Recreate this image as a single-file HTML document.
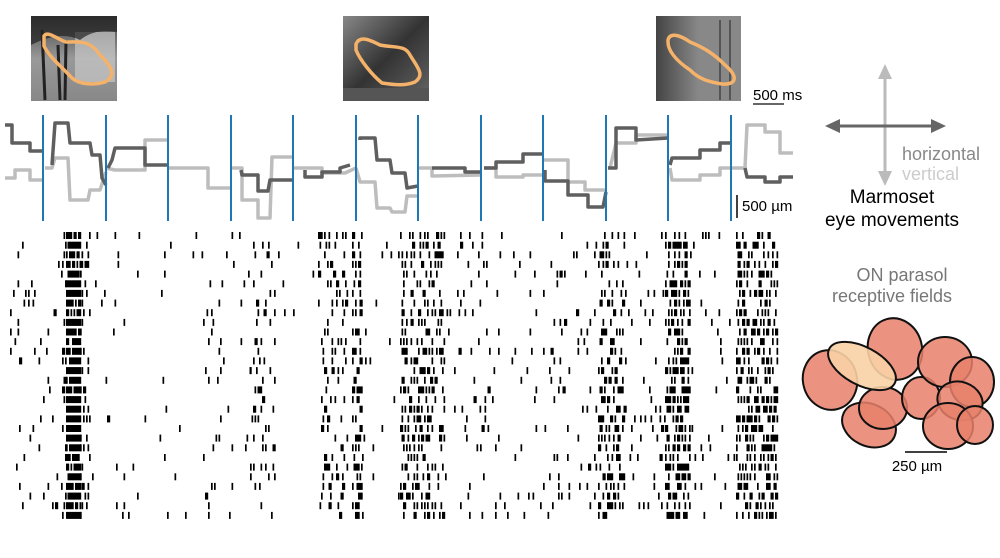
<!DOCTYPE html>
<html><head><meta charset="utf-8">
<style>
html,body{margin:0;padding:0;background:#fff;width:1000px;height:558px;overflow:hidden}
svg{display:block}
text{font-family:"Liberation Sans",Arial,sans-serif}
</style></head>
<body>
<svg id="s" width="1000" height="558" viewBox="0 0 1000 558" xmlns="http://www.w3.org/2000/svg">
<defs>
<linearGradient id="g1" x1="0" y1="0" x2="0" y2="1"><stop offset="0" stop-color="#444"/><stop offset="0.5" stop-color="#999"/><stop offset="1" stop-color="#888"/></linearGradient>
<linearGradient id="g2" x1="0" y1="0" x2="1" y2="1"><stop offset="0" stop-color="#888"/><stop offset="0.5" stop-color="#333"/><stop offset="1" stop-color="#666"/></linearGradient>
<linearGradient id="g3" x1="0" y1="0" x2="1" y2="0"><stop offset="0" stop-color="#444"/><stop offset="0.5" stop-color="#888"/><stop offset="1" stop-color="#555"/></linearGradient>
</defs>
<!-- images -->
<rect x="31" y="16" width="86" height="85" fill="url(#g1)"/>
<rect x="75" y="32" width="40" height="50" fill="#c8c8c8" opacity="0.7"/>
<path d="M42 30 L45 100 M58 45 L60 100 M66 40 L65 100" stroke="#222" stroke-width="3"/>
<path d="M31 16 L117 16 L117 32 Q95 28 80 40 Q60 30 31 45 Z" fill="#222" opacity="0.7"/>
<path d="M44 36 C48 30,58 40,66 42 C80 42,90 40,100 55 C110 65,118 75,105 82 C95 85,80 85,72 78 C60 65,50 58,44 46 Z" fill="none" stroke="#f4b26a" stroke-width="3.5"/>

<rect x="343" y="16" width="86" height="85" fill="url(#g2)"/>
<rect x="343" y="88" width="86" height="13" fill="#555"/>
<path d="M356 44 C360 35,370 40,380 45 C395 48,405 45,410 55 C418 68,425 75,415 82 C405 86,395 85,382 83 C372 75,360 60,356 50 Z" fill="none" stroke="#f4b26a" stroke-width="3.5"/>

<rect x="656" y="16" width="85" height="85" fill="url(#g3)"/>
<rect x="700" y="16" width="41" height="85" fill="#888"/>
<path d="M720 20 L720 100 M730 20 L730 100" stroke="#555" stroke-width="2"/>
<path d="M668 40 C670 32,680 35,690 42 C705 48,715 55,725 65 C740 78,735 85,722 84 C710 82,700 80,690 70 C675 60,668 50,668 42 Z" fill="none" stroke="#f4b26a" stroke-width="3.5"/>

<!-- 500 ms -->
<text x="753" y="100" font-size="15" fill="#000">500 ms</text>
<line x1="753" y1="104" x2="784" y2="104" stroke="#333" stroke-width="1.5"/>

<!-- traces -->
<g fill="none" stroke-width="3.5" stroke-linejoin="round">
<g stroke="#bdbdbd">
<polyline points="5,178 15,178 15,170 30,170 30,180 43,180"/>
<polyline points="45,168 52,168 55,158 68,158 70,200 88,200 90,190 100,190 106,172"/>
<polyline points="106,168 115,170 145,170 145,140 168,140"/>
<polyline points="168,168 208,168 208,188 231,188"/>
<polyline points="231,168 242,168 242,200 258,200 258,218 270,218 272,157 293,157"/>
<polyline points="293,168 322,168 322,173 345,173 356,168"/>
<polyline points="356,168 360,182 375,182 377,208 390,208 392,212 405,212 407,196 418,196"/>
<polyline points="418,168 432,168 432,176 481,175"/>
<polyline points="484,168 496,168 496,177 523,177 523,175 543,175"/>
<polyline points="543,160 568,160 568,182 585,182 585,190 606,190"/>
<polyline points="610,168 616,143 636,143 636,135 668,135"/>
<polyline points="670,168 672,180 700,180 700,175 720,175 720,168 731,168"/>
<polyline points="731,168 745,168 747,125 765,125 765,132 780,132 780,153 793,153"/>
</g>
<g stroke="#5f5f5f">
<polyline points="5,125 12,125 12,143 30,143 30,151 43,151"/>
<polyline points="52,165 55,123 68,123 70,143 90,143 92,155 100,155 102,178 106,185"/>
<polyline points="108,168 112,160 115,148 145,148 145,165 168,165"/>
<polyline points="241,170 242,175 258,175 258,191 268,191 270,180 293,180"/>
<polyline points="305,170 305,177 322,177 322,172 340,172 340,168 350,165"/>
<polyline points="360,140 360,138 375,138 377,160 390,160 392,173 405,173 407,188 418,186"/>
<polyline points="432,168 465,168 465,172 481,172"/>
<polyline points="484,168 496,168 496,162 523,162 523,154 543,154"/>
<polyline points="545,170 545,181 568,181 568,195 588,195 588,207 603,207 606,192"/>
<polyline points="608,168 616,168 616,128 636,128 636,140 668,138"/>
<polyline points="670,165 672,158 700,158 700,150 720,150 720,143 730,143"/>
<polyline points="745,168 747,177 765,177 765,182 780,182 780,177 793,177"/>
</g>
</g>
<g stroke="#1f77b4" stroke-width="2">
<line x1="43" y1="115" x2="43" y2="221"/><line x1="106" y1="115" x2="106" y2="221"/><line x1="168" y1="115" x2="168" y2="221"/><line x1="231" y1="115" x2="231" y2="221"/><line x1="293" y1="115" x2="293" y2="221"/><line x1="356" y1="115" x2="356" y2="221"/><line x1="418" y1="115" x2="418" y2="221"/><line x1="481" y1="115" x2="481" y2="221"/><line x1="543" y1="115" x2="543" y2="221"/><line x1="606" y1="115" x2="606" y2="221"/><line x1="668" y1="115" x2="668" y2="221"/><line x1="731" y1="115" x2="731" y2="221"/>
</g>
<line x1="737" y1="195" x2="737" y2="218" stroke="#000" stroke-width="1.5"/>
<text x="742" y="211" font-size="15" fill="#000">500 µm</text>

<!-- cross arrows -->
<g stroke="#bbb" stroke-width="3" fill="#bbb">
<line x1="885" y1="74" x2="885" y2="177"/>
<polygon points="885,64 878,79 892,79" stroke="none"/>
<polygon points="885,186 878,171 892,171" stroke="none"/>
</g>
<g stroke="#666" stroke-width="3" fill="#666">
<line x1="834" y1="126" x2="937" y2="126"/>
<polygon points="825,126 840,119 840,133" stroke="none"/>
<polygon points="946,126 931,119 931,133" stroke="none"/>
</g>
<text x="902" y="160" font-size="18" fill="#888">horizontal</text>
<text x="902" y="180" font-size="18" fill="#ccc">vertical</text>
<text x="892" y="203" font-size="19" fill="#000" text-anchor="middle">Marmoset</text>
<text x="892" y="226" font-size="19" fill="#000" text-anchor="middle">eye movements</text>
<text x="902" y="281" font-size="18" fill="#777" text-anchor="middle">ON parasol</text>
<text x="892" y="302" font-size="18" fill="#777" text-anchor="middle">receptive fields</text>

<!-- receptive fields -->
<g stroke="#111" stroke-width="2" fill="#e8806a" fill-opacity="0.85">
<ellipse cx="830" cy="380" rx="27" ry="30" transform="rotate(-15 830 380)"/>
<ellipse cx="869" cy="425" rx="28" ry="21" transform="rotate(25 869 425)"/>
<ellipse cx="883" cy="408" rx="24" ry="21"/>
<ellipse cx="895" cy="349" rx="27" ry="31" transform="rotate(-15 895 349)"/>
<ellipse cx="921" cy="398" rx="19" ry="21"/>
<ellipse cx="945" cy="362" rx="27" ry="25"/>
<ellipse cx="972" cy="382" rx="22" ry="25"/>
<ellipse cx="960" cy="401" rx="23" ry="19" transform="rotate(20 960 401)"/>
<ellipse cx="948" cy="426" rx="25" ry="23"/>
<ellipse cx="975" cy="425" rx="18" ry="19"/>
<ellipse cx="862" cy="366" rx="37" ry="19" transform="rotate(28 862 366)" fill="#fad2a6" fill-opacity="0.9"/>
</g>
<line x1="905" y1="452" x2="947" y2="452" stroke="#000" stroke-width="1.5"/>
<text x="917" y="471" font-size="15" fill="#000" text-anchor="middle">250 µm</text>

<g id="r" fill="#000"></g>
</svg>
<script>
(function(){
var seed=12345;function rnd(){seed|=0;seed=seed+0x6D2B79F5|0;var t=Math.imul(seed^seed>>>15,1|seed);t=t+Math.imul(t^t>>>7,61|t)^t;return((t^t>>>14)>>>0)/4294967296;}
var d=[[10,62,0.035],[62,66,0.12],[66,80,0.6],[80,92,0.1],[92,205,0.012],[205,230,0.04],[230,250,0.02],[250,275,0.08],[275,315,0.006],[318,348,0.12],[352,362,0.3],[362,400,0.02],[400,445,0.2],[445,480,0.035],[480,540,0.03],[540,597,0.045],[598,625,0.2],[625,665,0.05],[665,690,0.3],[690,735,0.025],[736,778,0.25]];
var g=document.getElementById('r'),h='';
for(var r=0;r<30;r++){var y=232+r*9.65;
 for(var i=0;i<d.length;i++){for(var x=d[i][0];x<d[i][1];x+=1.5){if(rnd()<d[i][2]*1.5){h+='<rect x="'+x.toFixed(1)+'" y="'+y.toFixed(1)+'" width="1.7" height="7"/>';}}}}
g.innerHTML=h;
})();
</script>
</body></html>
